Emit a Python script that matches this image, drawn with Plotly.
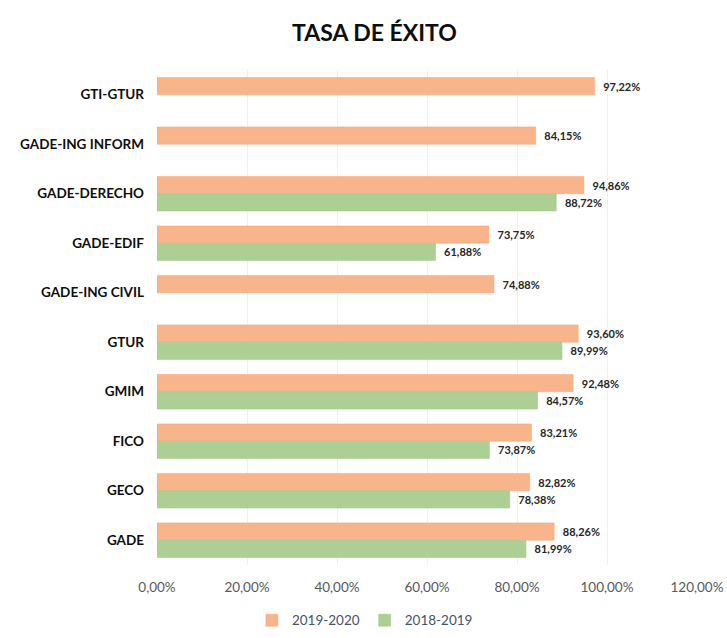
import plotly.graph_objects as go

categories = ["GTI-GTUR", "GADE-ING INFORM", "GADE-DERECHO", "GADE-EDIF", "GADE-ING CIVIL",
              "GTUR", "GMIM", "FICO", "GECO", "GADE"]
values_2019_2020 = [97.22, 84.15, 94.86, 73.75, 74.88, 93.60, 92.48, 83.21, 82.82, 88.26]
values_2018_2019 = [None, None, 88.72, 61.88, None, 89.99, 84.57, 73.87, 78.38, 81.99]
tick_values = [0, 20, 40, 60, 80, 100, 120]
tick_labels = ["0,00%", "20,00%", "40,00%", "60,00%", "80,00%", "100,00%", "120,00%"]


def fmt(v):
    return "" if v is None else "  <b>" + f"{v:.2f}".replace(".", ",") + "%</b>"


fig = go.Figure()
fig.add_trace(go.Bar(
    y=categories, x=values_2019_2020, orientation="h", name="2019-2020",
    marker=dict(color="#F8B48A", line=dict(color="#F4A578", width=0.5)),
    text=[fmt(v) for v in values_2019_2020], textposition="outside",
    textfont=dict(family="Lato", size=11, color="#262626"), cliponaxis=False,
))
fig.add_trace(go.Bar(
    y=categories, x=values_2018_2019, orientation="h", name="2018-2019",
    marker=dict(color="#AECF94", line=dict(color="#9FC485", width=0.5)),
    text=[fmt(v) for v in values_2018_2019], textposition="outside",
    textfont=dict(family="Lato", size=11, color="#262626"), cliponaxis=False,
))

fig.update_layout(
    width=727, height=638,
    paper_bgcolor="white", plot_bgcolor="white",
    margin=dict(l=157, r=30, t=70, b=73, autoexpand=False),
    barmode="group", bargap=0.30, bargroupgap=0,
    title=dict(text="<b>TASA DE ÉXITO</b>", x=0.515, xanchor="center", y=0.948, yanchor="middle",
               font=dict(family="Lato", size=23, color="#0D0D0D")),
    xaxis=dict(range=[0, 120], tickvals=tick_values, ticktext=tick_labels, automargin=False,
               showgrid=True, gridcolor="#F0F0F0", zeroline=False, showline=False,
               tickfont=dict(family="Lato", size=13.5, color="#595959"), ticks="",
               ticklabelstandoff=12),
    yaxis=dict(autorange="reversed", showgrid=False, showline=False, ticks="", automargin=False,
               tickfont=dict(family="Lato", size=13.5, color="#0D0D0D"), ticklabelstandoff=12,
               tickprefix="<b>", ticksuffix="</b>"),
    legend=dict(orientation="h", x=0.385, xanchor="center", y=-0.112, yanchor="middle",
                font=dict(family="Lato", size=13.5, color="#44546A"), itemwidth=30,
                traceorder="normal"),
)

fig.write_html("out.html", post_script="document.body.style.margin='0';",
               config={"displayModeBar": False})
